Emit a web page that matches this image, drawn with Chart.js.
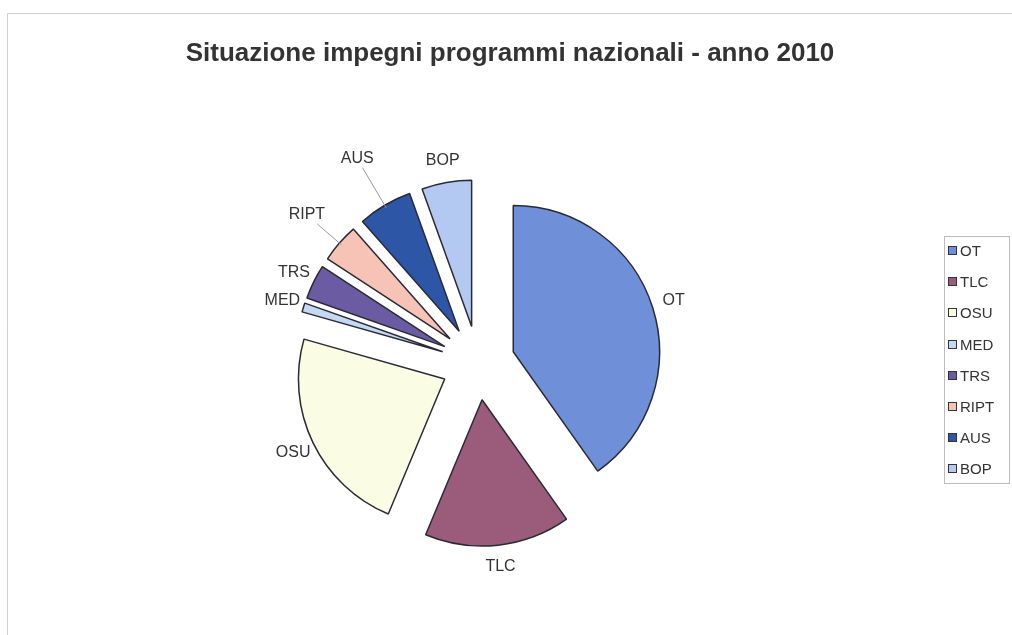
<!DOCTYPE html>
<html><head><meta charset="utf-8">
<script src="https://cdn.jsdelivr.net/npm/chart.js@4.4.0/dist/chart.umd.min.js"></script>
<style>html,body{margin:0;padding:0;background:#fff}#wrap{position:relative;width:1012px;height:635px}</style>
</head><body><div id="wrap"><canvas id="c"></canvas></div>
<script>
// ---- data ----
const TITLE = 'Situazione impegni programmi nazionali - anno 2010';
const categories = ['OT', 'TLC', 'OSU', 'MED', 'TRS', 'RIPT', 'AUS', 'BOP'];
const values = [40.2, 16.1, 23.1, 1.0, 3.8, 4.3, 6.0, 5.5];
const sliceColors = ['#6f90d8', '#9b5b7a', '#fbfce4', '#c4d8f4', '#6a5ba3', '#f7c3b7', '#2d56a6', '#b3c9f1'];
const calloutExtra = { RIPT: 21, AUS: 32 };

// ---- style ----
const EXPLODE = 37;
const LABEL_GAP = 22;
const FONT = '"Liberation Sans", Arial, sans-serif';
const TEXT = '#333333';

const explodePlugin = {
  id: 'explode',
  beforeDatasetsDraw(chart) {
    const ctx = chart.ctx;
    chart.getDatasetMeta(0).data.forEach(arc => {
      const mid = (arc.startAngle + arc.endAngle) / 2;
      ctx.save();
      ctx.translate(Math.cos(mid) * EXPLODE, Math.sin(mid) * EXPLODE);
      arc.draw(ctx);
      ctx.restore();
    });
    return false;
  }
};

const decorPlugin = {
  id: 'decor',
  beforeDraw(chart) {
    const ctx = chart.ctx;
    ctx.save();
    ctx.strokeStyle = '#cfcfcf';
    ctx.lineWidth = 1;
    ctx.beginPath();
    ctx.moveTo(7.5, chart.height);
    ctx.lineTo(7.5, 13.5);
    ctx.lineTo(chart.width, 13.5);
    ctx.stroke();
    ctx.restore();
  },
  afterDraw(chart) {
    const ctx = chart.ctx;
    ctx.save();
    // title
    ctx.fillStyle = TEXT;
    ctx.font = 'bold 26px ' + FONT;
    ctx.textAlign = 'center';
    ctx.textBaseline = 'alphabetic';
    ctx.fillText(TITLE, 510, 61);

    // slice labels
    ctx.font = '16px ' + FONT;
    ctx.textBaseline = 'middle';
    const meta = chart.getDatasetMeta(0);
    meta.data.forEach((arc, i) => {
      const name = categories[i];
      const mid = (arc.startAngle + arc.endAngle) / 2;
      const extra = calloutExtra[name] || 0;
      const d = arc.outerRadius + EXPLODE + LABEL_GAP + extra;
      const lx = arc.x + Math.cos(mid) * d;
      const ly = arc.y + Math.sin(mid) * d;
      ctx.fillStyle = TEXT;
      ctx.fillText(name, lx, ly);
      if (extra) {
        const w = ctx.measureText(name).width / 2 + 2;
        const h = 9;
        const ax = arc.x + Math.cos(mid) * (arc.outerRadius + EXPLODE - 3);
        const ay = arc.y + Math.sin(mid) * (arc.outerRadius + EXPLODE - 3);
        const dx = ax - lx, dy = ay - ly;
        const t = Math.min(w / Math.abs(dx || 1e-6), h / Math.abs(dy || 1e-6));
        ctx.strokeStyle = '#9a9a9a';
        ctx.lineWidth = 1;
        ctx.beginPath();
        ctx.moveTo(lx + dx * t, ly + dy * t);
        ctx.lineTo(ax, ay);
        ctx.stroke();
      }
    });

    // legend
    const L = { left: 944.5, top: 236.5, right: 1009.5, bottom: 483.5, firstY: 251, step: 31.2, sw: 8 };
    ctx.strokeStyle = '#bdbdbd';
    ctx.lineWidth = 1;
    ctx.strokeRect(L.left, L.top, L.right - L.left, L.bottom - L.top);
    ctx.font = '15px ' + FONT;
    ctx.textAlign = 'left';
    categories.forEach((name, i) => {
      const y = Math.round(L.firstY + i * L.step);
      ctx.fillStyle = sliceColors[i];
      ctx.fillRect(948.5, y - 4.5, L.sw, L.sw);
      ctx.strokeStyle = '#333';
      ctx.strokeRect(948.5, y - 4.5, L.sw, L.sw);
      ctx.fillStyle = TEXT;
      ctx.fillText(name, 960, y + 1);
    });
    ctx.restore();
  }
};

new Chart(document.getElementById('c'), {
  type: 'pie',
  data: {
    labels: categories,
    datasets: [{
      data: values,
      backgroundColor: sliceColors,
      borderColor: '#2a2a35',
      borderWidth: 1.5
    }]
  },
  options: {
    responsive: true,
    maintainAspectRatio: false,
    animation: false,
    events: [],
    layout: { padding: { left: 331, right: 387, top: 216, bottom: 125 } },
    plugins: { legend: { display: false }, title: { display: false }, tooltip: { enabled: false } }
  },
  plugins: [explodePlugin, decorPlugin]
});
</script>
</body></html>
